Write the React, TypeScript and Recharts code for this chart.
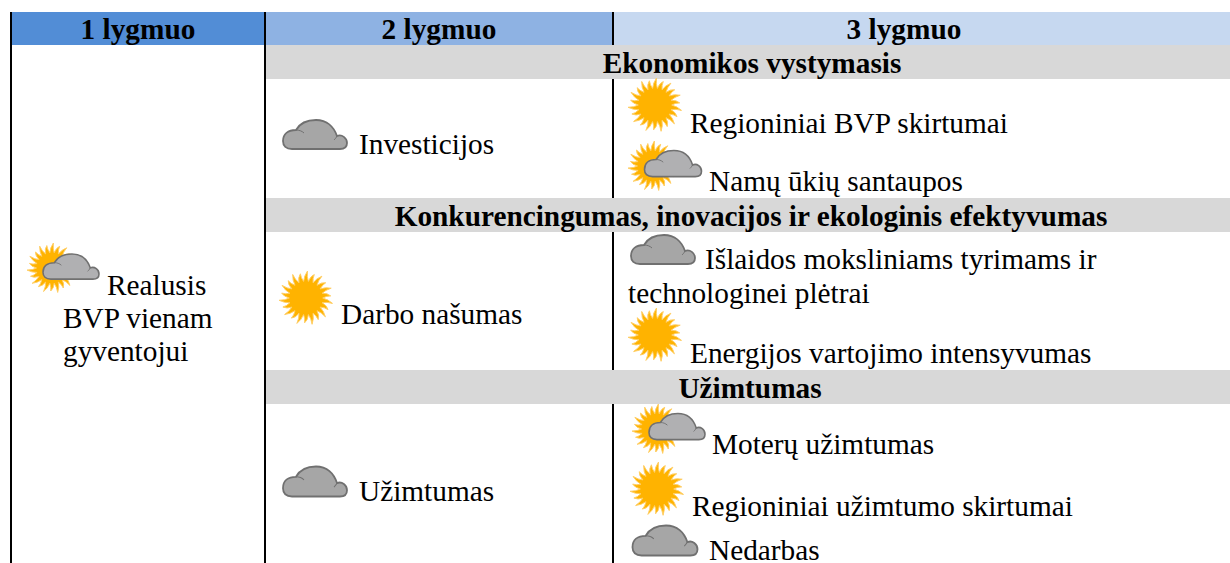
import { ScatterChart, Scatter, XAxis, YAxis, ReferenceArea, ReferenceLine } from 'recharts';

const WIDTH = 1230;
const HEIGHT = 563;
const SERIF = '"Liberation Serif", serif';
const TEXT_SIZE = 29.3;

// header and section rows
const headers = ['1 lygmuo', '2 lygmuo', '3 lygmuo'];
const headerX = [138, 439, 904];
const headerColors = ['#528dd6', '#8eb2e3', '#c6d8f0'];
const columnEdges = [11, 265, 613, 1230];
const sections = ['Ekonomikos vystymasis', 'Konkurencingumas, inovacijos ir ekologinis efektyvumas', 'Užimtumas'];
const sectionX = [752, 751, 750];
const sectionTop = [45, 198, 370];
const sectionBottom = [79, 232, 404];

// table text, one baseline each
const labels = [
  { x: 107, y: 295, text: 'Realusis' },
  { x: 63, y: 328, text: 'BVP vienam' },
  { x: 63, y: 361, text: 'gyventojui' },
  { x: 359, y: 154, text: 'Investicijos' },
  { x: 341, y: 324, text: 'Darbo našumas' },
  { x: 359, y: 501, text: 'Užimtumas' },
  { x: 690, y: 133, text: 'Regioniniai BVP skirtumai' },
  { x: 709, y: 191, text: 'Namų ūkių santaupos' },
  { x: 705, y: 269, text: 'Išlaidos moksliniams tyrimams ir' },
  { x: 628, y: 303, text: 'technologinei plėtrai' },
  { x: 690, y: 363, text: 'Energijos vartojimo intensyvumas' },
  { x: 712, y: 454, text: 'Moterų užimtumas' },
  { x: 692, y: 516, text: 'Regioniniai užimtumo skirtumai' },
  { x: 709, y: 560, text: 'Nedarbas' },
];

// weather icons, centre of each glyph
const suns = [
  { x: 655, y: 105, r: 27 },
  { x: 306, y: 298, r: 27 },
  { x: 655, y: 335, r: 27 },
  { x: 657, y: 489, r: 27 },
  { x: 52, y: 268, r: 25 },
  { x: 653, y: 166, r: 25 },
  { x: 657, y: 429, r: 25 },
];
const clouds = [
  { x: 315, y: 135, w: 64, h: 30, fill: '#a6a6a6' },
  { x: 315, y: 482, w: 64, h: 31, fill: '#a6a6a6' },
  { x: 663, y: 250, w: 64, h: 30, fill: '#a6a6a6' },
  { x: 665, y: 541, w: 65, h: 31, fill: '#a6a6a6' },
  { x: 71, y: 267, w: 56, h: 26, fill: '#b0b0b2' },
  { x: 673, y: 164, w: 57, h: 27, fill: '#b0b0b2' },
  { x: 677, y: 427, w: 56, h: 27, fill: '#b0b0b2' },
];

function sunPath(r: number) {
  const rays = 22;
  const inner = r * 0.62;
  const pt = (a: number, d: number) => `${(Math.cos(a) * d).toFixed(1)} ${(Math.sin(a) * d).toFixed(1)}`;
  let d = '';
  for (let i = 0; i < rays; i++) {
    const a = (i / rays) * Math.PI * 2;
    const step = (Math.PI * 2) / rays;
    const tip = i % 2 === 0 ? r : r * 0.92;
    d += i === 0 ? `M${pt(a, inner)}` : `L${pt(a, inner)}`;
    d += `Q${pt(a + step * 0.2, r * 0.82)} ${pt(a + step * 0.7, tip)}`;
    d += `Q${pt(a + step * 0.62, r * 0.78)} ${pt(a + step, inner)}`;
  }
  return d + 'Z';
}

const Sun = (props: any) => {
  const { cx, cy, payload } = props;
  return <path transform={`translate(${cx} ${cy})`} d={sunPath(payload.r)} fill="#ffb300" stroke="#ffcf66" strokeWidth={1} strokeLinejoin="round" />;
};

// outline drawn on a 64x30 box
const CLOUD = 'M9 29C3 29 0 26 0 21C0 14 5 10 13 10C17 3 25 0 33 0C44 0 51 7 54 16C59 14 64 18 64 23C64 27 61 29 57 29Z';
const Cloud = (props: any) => {
  const { cx, cy, payload } = props;
  const sx = payload.w / 64;
  const sy = payload.h / 30;
  return (
    <g transform={`translate(${cx - payload.w / 2} ${cy - payload.h / 2}) scale(${sx} ${sy})`}>
      <path d={CLOUD} fill={payload.fill} stroke="#707070" strokeWidth={1.8} />
      <path d="M13 10C16 10 19 11 21 13M54 16C53 18 52 19 51 20" fill="none" stroke="#707070" strokeWidth={1} />
    </g>
  );
};

const TableText = (props: any) => {
  const { cx, cy, payload } = props;
  return (
    <text x={cx} y={cy} fontFamily={SERIF} fontSize={TEXT_SIZE} fontWeight={payload.bold ? 700 : 400} textAnchor={payload.bold ? 'middle' : 'start'} fill="#000">
      {payload.text}
    </text>
  );
};

const headerLabels = headers.map((text, i) => ({ x: headerX[i], y: 39, text, bold: true }));
const sectionLabels = sections.map((text, i) => ({ x: sectionX[i], y: sectionBottom[i] - 6, text, bold: true }));

// third column rule is broken by the grey section rows
const ruleSegments = [
  { x: columnEdges[0], from: 12, to: HEIGHT },
  { x: columnEdges[1], from: 12, to: HEIGHT },
  { x: columnEdges[2], from: 12, to: sectionTop[0] },
  { x: columnEdges[2], from: sectionBottom[0], to: sectionTop[1] },
  { x: columnEdges[2], from: sectionBottom[1], to: sectionTop[2] },
  { x: columnEdges[2], from: sectionBottom[2], to: HEIGHT },
];

export default function App() {
  return (
    <div style={{ position: 'absolute', left: 0, top: 0, width: WIDTH, height: HEIGHT, background: '#fff' }}>
      <ScatterChart width={WIDTH} height={HEIGHT} margin={{ top: 0, right: 0, bottom: 0, left: 0 }}>
        <XAxis type="number" dataKey="x" domain={[0, WIDTH]} hide />
        <YAxis type="number" dataKey="y" domain={[0, HEIGHT]} reversed hide />
        {headers.map((h, i) => (
          <ReferenceArea key={h} x1={columnEdges[i]} x2={columnEdges[i + 1]} y1={12} y2={45} fill={headerColors[i]} fillOpacity={1} stroke="none" />
        ))}
        {sections.map((s, i) => (
          <ReferenceArea key={s} x1={columnEdges[1]} x2={WIDTH} y1={sectionTop[i]} y2={sectionBottom[i]} fill="#d8d8d8" fillOpacity={1} stroke="none" />
        ))}
        {ruleSegments.map((r, i) => (
          <ReferenceLine key={i} segment={[{ x: r.x, y: r.from }, { x: r.x, y: r.to }]} stroke="#000" strokeWidth={2} />
        ))}
        <Scatter data={suns} shape={Sun} isAnimationActive={false} />
        <Scatter data={clouds} shape={Cloud} isAnimationActive={false} />
        <Scatter data={headerLabels} shape={TableText} isAnimationActive={false} />
        <Scatter data={sectionLabels} shape={TableText} isAnimationActive={false} />
        <Scatter data={labels} shape={TableText} isAnimationActive={false} />
      </ScatterChart>
    </div>
  );
}
